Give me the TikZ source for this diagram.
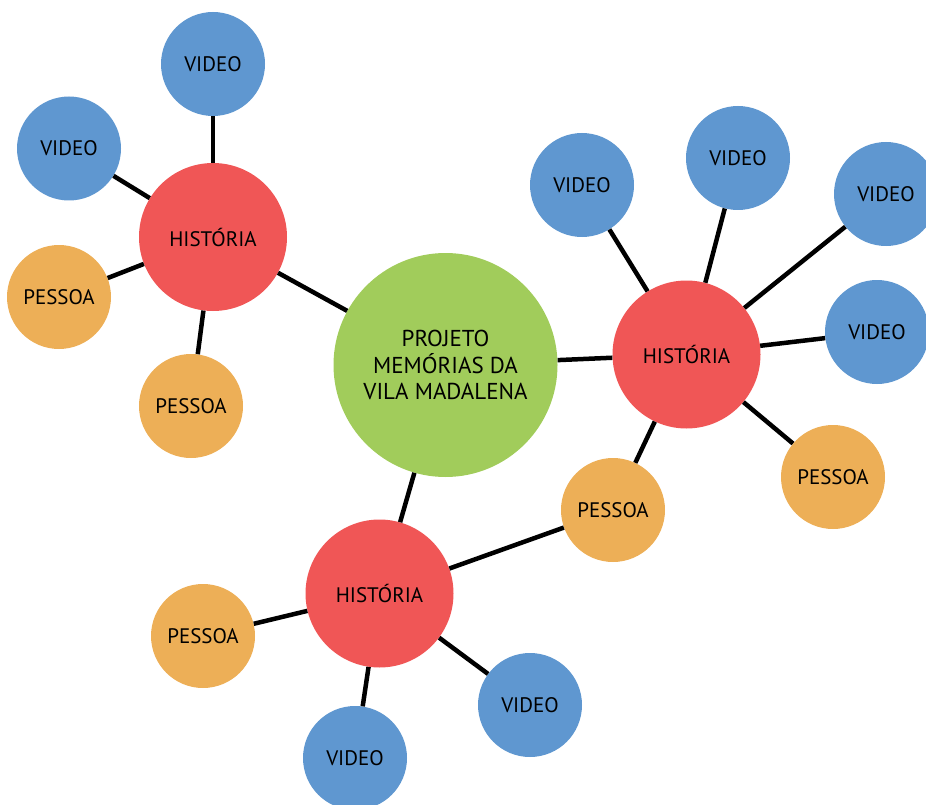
\documentclass[tikz,border=0pt]{standalone}
\usepackage{fontspec}
\setmainfont{PT Sans}
\usetikzlibrary{positioning}
\definecolor{projgreen}{HTML}{A1CC5B}
\definecolor{histred}{HTML}{F05656}
\definecolor{vidblue}{HTML}{5F97D0}
\definecolor{pesorange}{HTML}{EDAF57}

\begin{document}
\begin{tikzpicture}[x=1pt,y=-1pt,
  bubble/.style={circle,inner sep=0pt,align=center,font=\fontsize{21}{26}\selectfont},
  proj/.style={bubble,fill=projgreen,minimum size=224pt,font=\fontsize{23}{26.5}\selectfont},
  hist/.style={bubble,fill=histred,minimum size=148pt},
  vid/.style={bubble,fill=vidblue,minimum size=104pt},
  pes/.style={bubble,fill=pesorange,minimum size=104pt},
  link/.style={line width=4.5pt}]
  \useasboundingbox (0,0) rectangle (926,805);
  \clip (0,0) rectangle (926,805);

  % Center
  \node[proj] (proj) at (445.5,365) {PROJETO\\MEMÓRIAS DA\\VILA MADALENA};

  % Histories
  \node[hist] (h1) at (213,237) {HISTÓRIA};
  \node[hist] (h2) at (686.5,354.5) {HISTÓRIA};
  \node[hist] (h3) at (379.5,593.5) {HISTÓRIA};

  % Top left group
  \node[vid] (v1) at (213,64) {VIDEO};
  \node[vid] (v2) at (69,148.5) {VIDEO};
  \node[pes] (p1) at (59,297) {PESSOA};
  \node[pes] (p2) at (191,406) {PESSOA};

  % Right group
  \node[vid] (v3) at (582,185) {VIDEO};
  \node[vid] (v4) at (738,158) {VIDEO};
  \node[vid] (v5) at (886,194) {VIDEO};
  \node[vid] (v6) at (877,332) {VIDEO};
  \node[pes] (p3) at (833,477) {PESSOA};
  \node[pes] (p4) at (613,510) {PESSOA};

  % Bottom group
  \node[pes] (p5) at (203,636) {PESSOA};
  \node[vid] (v7) at (355,758) {VIDEO};
  \node[vid] (v8) at (530,705) {VIDEO};

  % Links
  \draw[link] (h1) -- (proj);
  \draw[link] (h2) -- (proj);
  \draw[link] (h3) -- (proj);
  \draw[link] (h1) -- (v1);
  \draw[link] (h1) -- (v2);
  \draw[link] (h1) -- (p1);
  \draw[link] (h1) -- (p2);
  \draw[link] (h2) -- (v3);
  \draw[link] (h2) -- (v4);
  \draw[link] (h2) -- (v5);
  \draw[link] (h2) -- (v6);
  \draw[link] (h2) -- (p3);
  \draw[link] (h2) -- (p4);
  \draw[link] (h3) -- (p4);
  \draw[link] (h3) -- (p5);
  \draw[link] (h3) -- (v7);
  \draw[link] (h3) -- (v8);
\end{tikzpicture}
\end{document}
